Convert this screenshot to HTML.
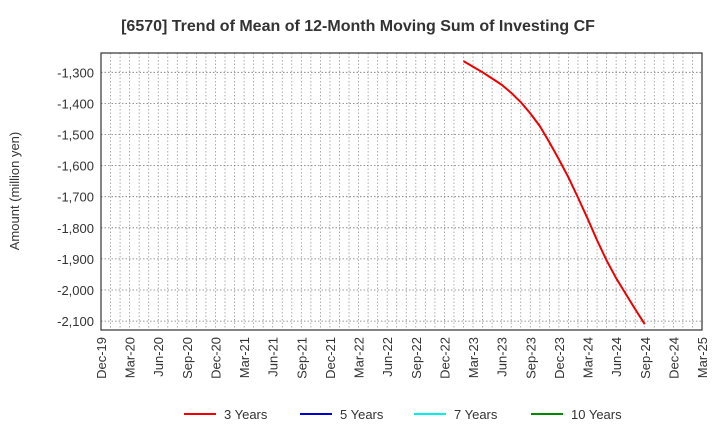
<!DOCTYPE html>
<html><head><meta charset="utf-8">
<style>
body{margin:0;background:#fff;font-family:"Liberation Sans",Arial,sans-serif;}
svg{display:block}
</style></head>
<body>
<svg id="chart" width="720" height="440" xmlns="http://www.w3.org/2000/svg">
<text x="358" y="31" text-anchor="middle" font-size="16" font-weight="bold" fill="#333">[6570]  Trend of Mean of 12-Month Moving Sum of Investing CF</text>
<text transform="translate(19,191) rotate(-90)" text-anchor="middle" font-size="13" fill="#333">Amount (million yen)</text>
<g id="grid"></g>
<g id="yticks"></g>
<g id="xticks"></g>
<g id="series"></g>
<rect x="101" y="53" width="601" height="277" fill="none" stroke="#333" stroke-width="1.2"/>
<g id="legend"></g>
</svg>
<script>
const xLabels=["Dec-19","Mar-20","Jun-20","Sep-20","Dec-20","Mar-21","Jun-21","Sep-21","Dec-21","Mar-22","Jun-22","Sep-22","Dec-22","Mar-23","Jun-23","Sep-23","Dec-23","Mar-24","Jun-24","Sep-24","Dec-24","Mar-25"];
const yTicks=[-1300,-1400,-1500,-1600,-1700,-1800,-1900,-2000,-2100];
const startMonth=38; // Feb-23, months after Dec-19
const series3=[-1264,-1282,-1300,-1320,-1340,-1366,-1396,-1432,-1473,-1525,-1580,-1638,-1703,-1770,-1840,-1905,-1962,-2012,-2062,-2110];
const series5=[];
const series7=[];
const series10=[];
const legendNames=["3 Years","5 Years","7 Years","10 Years"];
const legendColors=["#e00","#00c","#0ee","#080"];

const NS="http://www.w3.org/2000/svg";
const L=101,R=702,T=53,B=330,totalMonths=63;
const x=m=>L+(R-L)*m/totalMonths;
const y=v=>72.3+(v-(-1300))*(-31.1/100);
function mk(tag,attrs,parent){const e=document.createElementNS(NS,tag);for(const k in attrs)e.setAttribute(k,attrs[k]);parent.appendChild(e);return e;}
const grid=document.getElementById('grid');
for(let m=1;m<totalMonths;m++){
  const l=mk('line',{x1:x(m),x2:x(m),y1:T,y2:B,stroke:'#999','stroke-width':0.8,'stroke-dasharray':'1.5,2'},grid);
  
  
}
const yt=document.getElementById('yticks');
yTicks.forEach(v=>{
  const l=mk('line',{x1:L,x2:R,y1:y(v),y2:y(v),stroke:'#777','stroke-width':0.8,'stroke-dasharray':'1.5,2'},grid);
  
  
  const t=mk('text',{x:94,y:y(v)+5,'text-anchor':'end','font-size':13,fill:'#333'},yt);
  t.textContent=v.toLocaleString('en-US');
  
  
});
const xt=document.getElementById('xticks');
xLabels.forEach((s,i)=>{
  const px=x(i*3);
  const t=mk('text',{transform:`translate(${px+5},337) rotate(-90)`,'text-anchor':'end','font-size':13,fill:'#333'},xt);
  t.textContent=s;
  
  
});
const sg=document.getElementById('series');
[[series3,legendColors[0],'line-3-years'],[series5,legendColors[1],'line-5-years'],[series7,legendColors[2],'line-7-years'],[series10,legendColors[3],'line-10-years']].forEach(([d,c,n])=>{
  if(!d.length)return;
  const p=mk('polyline',{points:d.map((v,i)=>x(startMonth+i)+','+y(v)).join(' '),fill:'none',stroke:c,'stroke-width':2,'stroke-linejoin':'round'},sg);
  
  
});
const lg=document.getElementById('legend');
const lx=[184,300,414,531];
legendNames.forEach((n,i)=>{
  const g=mk('g',{},lg);
  
  
  mk('line',{x1:lx[i],x2:lx[i]+32,y1:414,y2:414,stroke:legendColors[i],'stroke-width':2},g);
  const t=mk('text',{x:lx[i]+40,y:419,'font-size':13,fill:'#333'},g);
  t.textContent=n;
});
</script>
</body></html>
